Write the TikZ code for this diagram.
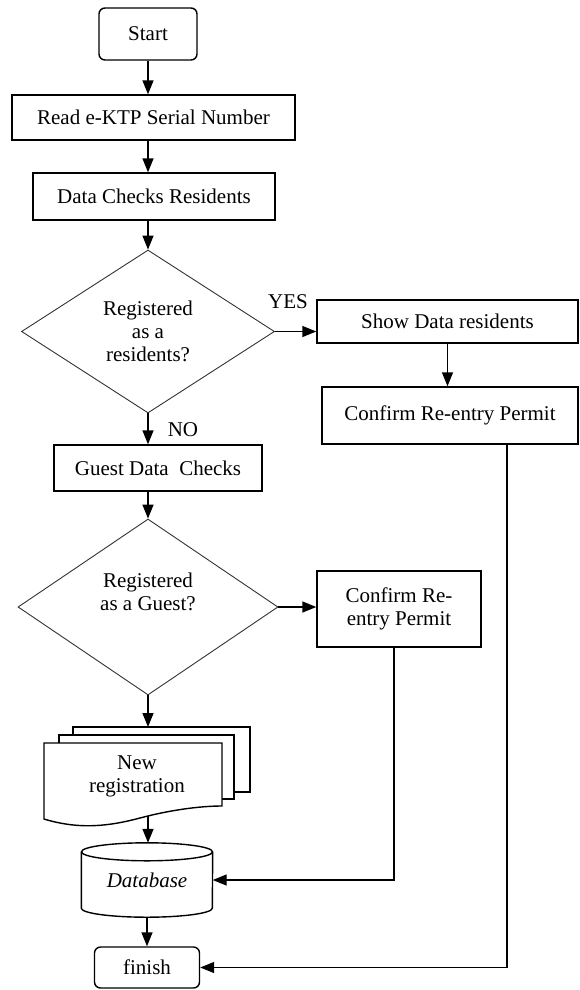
\documentclass[tikz,border=0pt]{standalone}
\usepackage{fontspec}
\setmainfont{Liberation Serif}
\usepackage{tikz}
\usetikzlibrary{positioning}
\usetikzlibrary{shapes.geometric}
\usetikzlibrary{arrows.meta}
\tikzstyle{box}=[draw, line width=1.4pt, align=center, inner sep=0pt]
\tikzstyle{terminal}=[box, rounded corners=6pt]
\tikzstyle{decision}=[diamond, draw=black!80, line width=0.9pt, inner sep=0pt, aspect=1.55, align=center]
\tikzstyle{lbl}=[inner sep=0pt, align=center]
\tikzstyle{doc}=[draw, line width=1.4pt, fill=white]
\tikzstyle{line}=[line width=1.4pt]
\tikzstyle{arrow}=[line, -{Triangle[length=14pt, width=11pt]}]

\begin{document}
\begin{tikzpicture}[x=1pt, y=-1pt, font=\fontsize{21}{23}\selectfont]
  \useasboundingbox (0,0) rectangle (579,990);

  % main column
  \node [terminal, minimum width=98pt, minimum height=52pt] (start) at (148,34) {Start};
  \node [box, minimum width=283pt, minimum height=45pt] (read) at (153.5,117.5) {Read e-KTP Serial Number};
  \node [box, minimum width=242pt, minimum height=47pt] (checkres) at (154,196.5) {Data Checks Residents};
  \node [decision, minimum width=253pt, minimum height=163pt] (isres) at (148,331.5) {Registered\\as a\\residents?};
  \node [box, minimum width=208pt, minimum height=46pt] (checkguest) at (158,468) {Guest Data\ \ Checks};
  \node [decision, minimum width=260pt, minimum height=176pt] (isguest) at (148,607) {};
  \node [lbl] (isguesttxt) at (148,592) {Registered\\as a Guest?};

  % right column
  \node [box, minimum width=261pt, minimum height=43pt] (showres) at (447.5,321.5) {Show Data residents};
  \node [box, minimum width=256pt, minimum height=57pt] (confres) at (450,415.5) {Confirm Re-entry Permit};
  \node [box, minimum width=164pt, minimum height=76pt] (confguest) at (399,609) {Confirm Re-\\entry Permit};

  \node [lbl] (yes) at (288,302) {YES};
  \node [lbl] (no) at (183,430) {NO};

  % new registration (stacked documents)
  \draw [doc] (73,727) rectangle (250,792);
  \draw [doc] (59,735) rectangle (234,799);
  \draw [doc] (44,743) -- (222,743) -- (222,806)
    .. controls (200,806) and (170,810) .. (140,818)
    .. controls (110,826) and (80,830) .. (44,819) -- cycle;
  \node [lbl] (newreg) at (137,776) {New\\registration};
  \coordinate (regin) at (148,727);
  \coordinate (regout) at (148,816);

  % database
  \node [inner sep=0pt, minimum width=131pt, minimum height=74pt] (db) at (147,880) {\textit{Database}};
  \draw [line] ([yshift=-9pt]db.north west) -- ([yshift=9pt]db.south west)
    arc [start angle=180, end angle=360, x radius=65.5pt, y radius=9pt]
    -- ([yshift=-9pt]db.north east);
  \draw [line] ([yshift=-9pt]db.north) ellipse [x radius=65.5pt, y radius=9pt];

  \node [terminal, minimum width=105pt, minimum height=41pt] (finish) at (147,967.5) {finish};

  % connectors
  \draw [arrow] (start) -- (start |- read.north);
  \draw [arrow] (start |- read.south) -- (start |- checkres.north);
  \draw [arrow] (start |- checkres.south) -- (isres.north);
  \draw [arrow] (isres.east) -- (isres.east -| showres.west);
  \draw [arrow] (showres) -- (showres |- confres.north);
  \draw [arrow] (isres.south) -- (isres.south |- checkguest.north);
  \draw [arrow] (isres.south |- checkguest.south) -- (isguest.north);
  \draw [arrow] (isguest.east) -- (isguest.east -| confguest.west);
  \draw [arrow] (isguest.south) -- (regin);
  \draw [arrow] (regout) -- (regout |- db.north);
  \draw [arrow] (db) -- (finish);
  \draw [arrow] ([xshift=-5pt]confguest.south) |- (db.east);
  \draw [arrow] ([xshift=57pt]confres.south) |- (finish.east);
\end{tikzpicture}
\end{document}
